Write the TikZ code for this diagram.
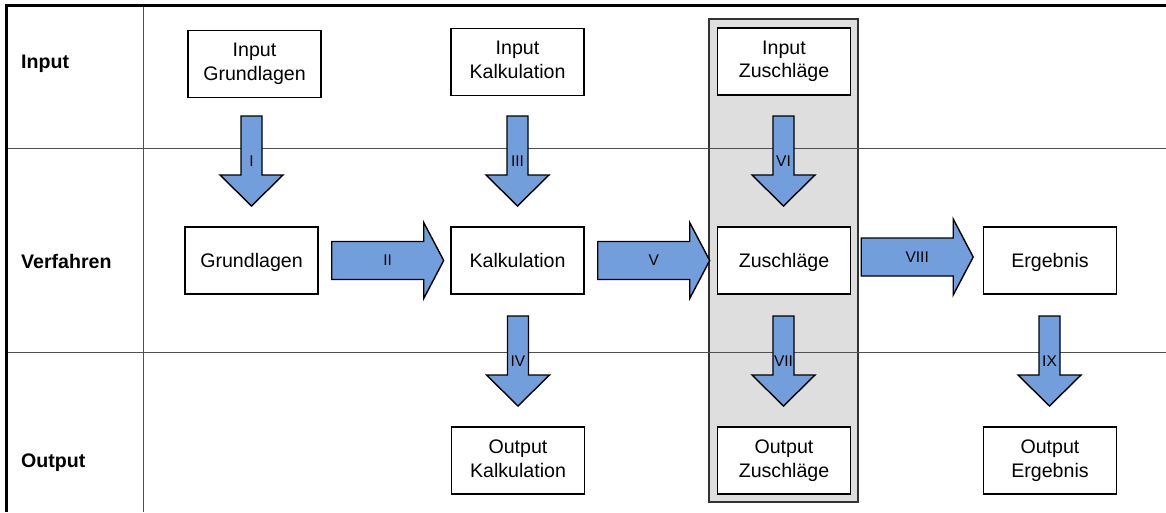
\documentclass[tikz,border=0pt]{standalone}
\usepackage{fontspec}
\setmainfont{Liberation Sans}
\usetikzlibrary{calc}

\definecolor{arrowblue}{RGB}{114,159,219}
\definecolor{colgray}{RGB}{222,222,222}
\definecolor{rulegray}{RGB}{80,80,80}

% line ascent and descent used to centre box texts
\newcommand\topstrut{\rule{0pt}{0.905em}}
\newcommand\botstrut{\rule[-0.212em]{0pt}{0.212em}}

\tikzset{
  box/.style={draw=black, line width=1.4pt, fill=white,
    minimum width=133pt, minimum height=67pt, inner sep=0pt,
    align=center, font=\fontsize{19.6}{23.5}\selectfont,
    execute at begin node=\topstrut, execute at end node=\botstrut},
  rowlabel/.style={anchor=base west, inner sep=0pt,
    font=\fontsize{19.6}{23.5}\selectfont\bfseries},
  blockarrow/.style={draw=black, line width=1.4pt, fill=arrowblue,
    line join=miter},
  numlabel/.style={inner sep=0pt, font=\fontsize{15.5}{18}\selectfont},
  divider/.style={draw=rulegray, line width=1pt},
  frameline/.style={draw=black, line width=3pt},
  highlight/.style={draw=black!80, line width=1.4pt, fill=colgray},
}

% block arrow: name, tail point, rotation, length, shaft half-width,
% head half-width, head length, label
\newcommand\blockarr[8]{%
  \begin{scope}[shift={#2}, rotate=#3]
    \path[blockarrow] (0,{-#5}) -- ({#4-#7},{-#5}) -- ({#4-#7},{-#6})
      -- (#4,0) -- ({#4-#7},#6) -- ({#4-#7},#5) -- (0,#5) -- cycle;
    \node[numlabel] (#1) at ({(#4)/2},0) {#8};
  \end{scope}}

\begin{document}
\begin{tikzpicture}[x=1pt, y=-1pt]
  \useasboundingbox (0,0) rectangle (1166,512);

  % highlighted column
  \path[highlight] (709,19) rectangle (858,502);

  % lane dividers
  \path[divider] (6,148) -- (1166,148);
  \path[divider] (6,352) -- (1166,352);
  \path[divider] (143,5) -- (143,512);

  % outer frame (top and left)
  \path[frameline] (1166,5.5) -- (6,5.5) -- (6,512);

  % lane labels
  \node[rowlabel] (lInput) at (21,68) {Input};
  \node[rowlabel] (lVerf) at (21,268) {Verfahren};
  \node[rowlabel] (lOutput) at (21,467.5) {Output};

  % input row
  \node[box] (igr) at (254.5,64) {Input\\Grundlagen};
  \node[box] (ika) at (517.5,62) {Input\\Kalkulation};
  \node[box] (izu) at (784,61.5) {Input\\Zuschläge};

  % process row
  \node[box] (gr) at (251.5,260.5) {Grundlagen};
  \node[box] (ka) at (517.5,260.5) {Kalkulation};
  \node[box] (zu) at (784,260.5) {Zuschläge};
  \node[box] (er) at (1050,260.5) {Ergebnis};

  % output row
  \node[box] (oka) at (518,460.5) {Output\\Kalkulation};
  \node[box] (ozu) at (784,460.5) {Output\\Zuschläge};
  \node[box] (oer) at (1050,460.5) {Output\\Ergebnis};

  % vertical block arrows
  \blockarr{aI}{(251.5,116)}{-90}{90}{10.5}{31.5}{31}{I}
  \blockarr{aIII}{(517.5,116)}{-90}{90}{10.5}{31.5}{31}{III}
  \blockarr{aVI}{(783.5,116)}{-90}{90}{10.5}{31.5}{31}{VI}
  \blockarr{aIV}{(518,316)}{-90}{90}{10.5}{31.5}{31}{IV}
  \blockarr{aVII}{(783.5,316)}{-90}{90}{10.5}{31.5}{31}{VII}
  \blockarr{aIX}{(1049.5,316)}{-90}{90}{10.5}{31.5}{31}{IX}

  % horizontal block arrows
  \blockarr{aII}{($(gr.east)+(13,0)$)}{0}{112}{19}{38}{20}{II}
  \blockarr{aV}{($(ka.east)+(13,0)$)}{0}{112}{19}{38}{20}{V}
  \blockarr{aVIII}{($(zu.east)+(10,-3.5)$)}{0}{112}{19}{38}{20}{VIII}
\end{tikzpicture}
\end{document}
